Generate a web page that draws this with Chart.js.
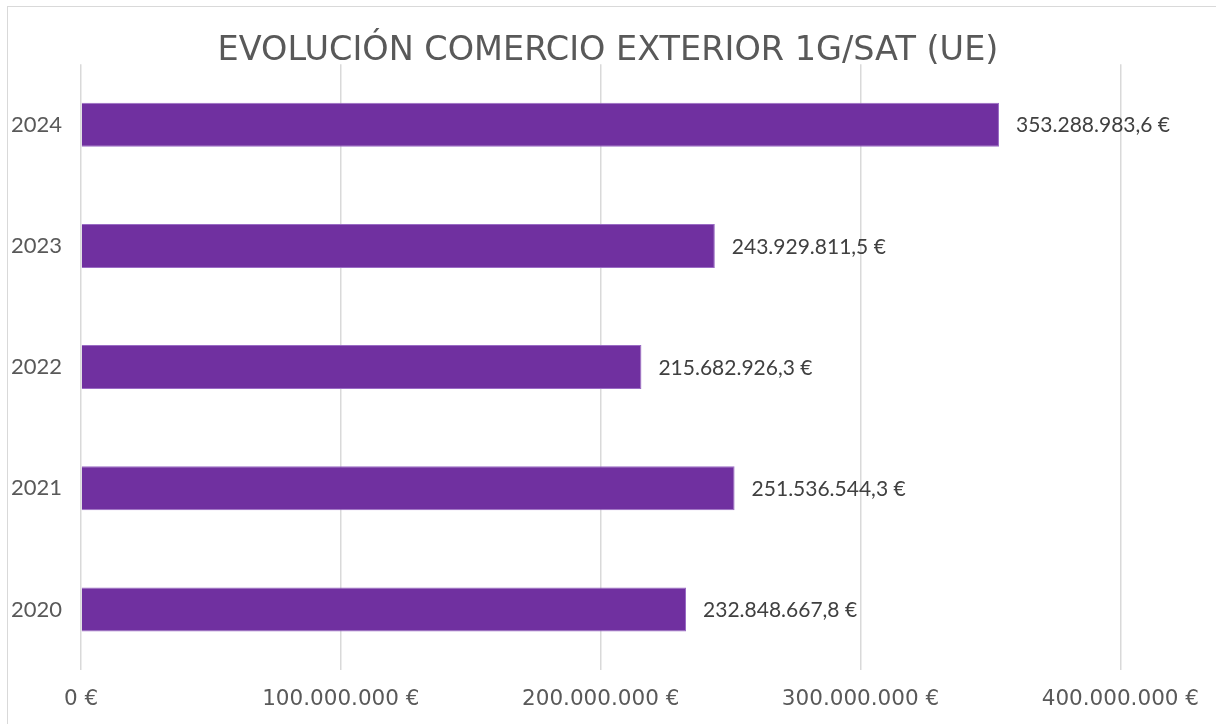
<!DOCTYPE html>
<html>
<head>
<meta charset="utf-8">
<script src="https://cdn.jsdelivr.net/npm/chart.js@4.4.1/dist/chart.umd.min.js"></script>
<style>
  html, body { margin: 0; padding: 0; background: #fff; overflow: hidden; }
  #frame {
    position: absolute; left: 7px; top: 6px; width: 1300px; height: 800px;
    border: 1px solid #d9d9d9; pointer-events: none;
  }
  #wrap { position: absolute; left: 0; top: 0; width: 1216px; height: 724px; }
</style>
</head>
<body>
<div id="frame"></div>
<div id="wrap"><canvas id="chart" width="1216" height="724"></canvas></div>
<script>
// years, bottom to top
const years = ['2020', '2021', '2022', '2023', '2024'];
// trade volume in euros
const tradeValues = [232848667.8, 251536544.3, 215682926.3, 243929811.5, 353288983.6];
const axisTicks = [0, 100000000, 200000000, 300000000, 400000000];

const BAR_COLOUR = '#7030a0';

// spanish style: 1.234.567,8 €
function formatEuro(value, decimals) {
    const parts = value.toFixed(decimals).split('.');
    const whole = parts[0].replace(/\B(?=(\d{3})+(?!\d))/g, '.');
    return (decimals ? whole + ',' + parts[1] : whole) + ' €';
}

// value labels at the end of each bar
const barLabels = {
    id: 'barLabels',
    afterDatasetsDraw: function (chart) {
        const ctx = chart.ctx;
        const meta = chart.getDatasetMeta(0);
        ctx.save();
        ctx.font = '21px Lato';
        ctx.fillStyle = '#404040';
        ctx.textAlign = 'left';
        ctx.textBaseline = 'middle';
        meta.data.forEach(function (bar, i) {
            ctx.fillText(formatEuro(tradeValues[i], 1), bar.x + 17, bar.y + 1);
        });
        ctx.restore();
    }
};

new Chart(document.getElementById('chart').getContext('2d'), {
    type: 'bar',
    data: {
        labels: years,
        datasets: [{
            data: tradeValues,
            backgroundColor: BAR_COLOUR,
            borderColor: '#9a6cc4',
            borderWidth: 1,
            categoryPercentage: 1,
            barPercentage: 0.363
        }]
    },
    plugins: [barLabels],
    options: {
        indexAxis: 'y',
        responsive: false,
        animation: false,
        layout: { padding: 0 },
        plugins: {
            legend: { display: false },
            tooltip: { enabled: false },
            title: {
                display: true,
                text: 'EVOLUCIÓN COMERCIO EXTERIOR 1G/SAT (UE)',
                color: '#595959',
                font: { family: 'DejaVu Sans', size: 33.5, weight: 'normal', lineHeight: 0.75 },
                padding: { top: 39, bottom: 0 }
            }
        },
        scales: {
            x: {
                min: 0,
                max: 400000000,
                afterBuildTicks: function (scale) {
                    scale.ticks = axisTicks.map(function (v) { return { value: v }; });
                },
                afterFit: function (scale) { scale.height = 54; },
                grid: { color: '#d9d9d9', lineWidth: 1.5, drawTicks: false },
                border: { display: false },
                ticks: {
                    color: '#595959',
                    font: { family: 'DejaVu Sans', size: 21.5 },
                    padding: 17,
                    maxRotation: 0,
                    callback: function (v) { return formatEuro(v, 0); }
                }
            },
            y: {
                reverse: true,
                afterFit: function (scale) { scale.width = 81; },
                grid: { display: false, drawTicks: false },
                border: { display: false },
                ticks: {
                    color: '#595959',
                    font: { family: 'Lato', size: 22 },
                    padding: 19
                }
            },
            // empty right-hand margin so the plot ends at 400M with room for the last tick
            yMargin: {
                axis: 'y',
                position: 'right',
                afterFit: function (scale) { scale.width = 95; },
                grid: { display: false, drawTicks: false },
                border: { display: false },
                ticks: { display: false }
            }
        }
    }
});
</script>
</body>
</html>
